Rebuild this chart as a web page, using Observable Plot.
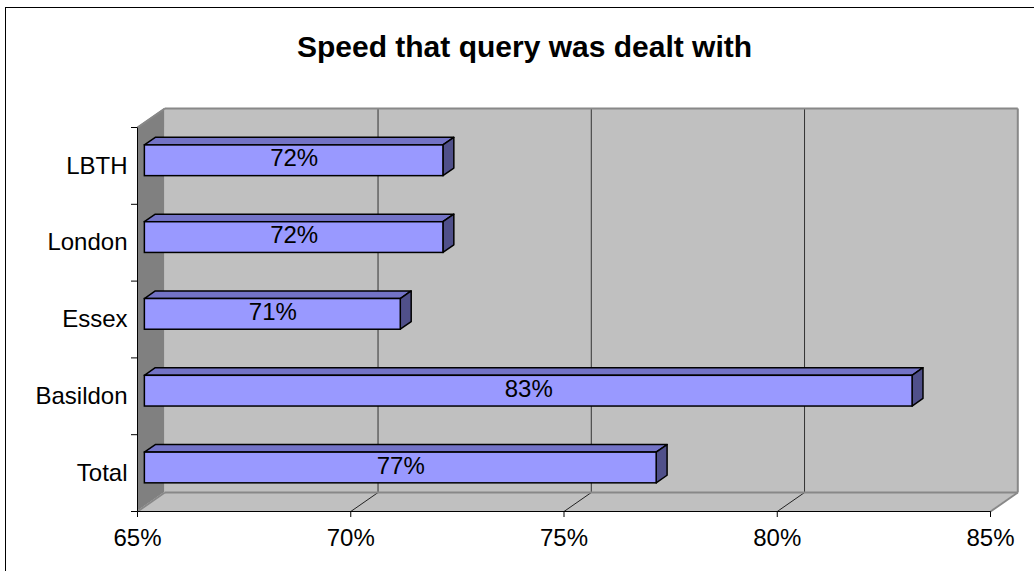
<!DOCTYPE html>
<html>
<head>
<meta charset="utf-8">
<script src="https://cdn.jsdelivr.net/npm/d3@7"></script>
<script src="https://cdn.jsdelivr.net/npm/@observablehq/plot@0.6"></script>
<style>
  html, body { margin: 0; padding: 0; background: #fff; overflow: hidden; }
  #wrap { position: relative; width: 1034px; height: 571px; overflow: hidden; font-family: "Liberation Sans", Arial, sans-serif; }
  #frame { position: absolute; left: 5px; top: 7px; width: 1100px; height: 700px; border: 1px solid #000; box-sizing: border-box; }
  #title { position: absolute; left: 0; width: 1049px; top: 32px; text-align: center; font-weight: bold; font-size: 30px; line-height: 30px; color: #000; }
  #chart { position: absolute; left: 0; top: 0; }
</style>
</head>
<body>
<div id="wrap">
  <div id="frame"></div>
  <div id="chart"></div>
  <div id="title">Speed that query was dealt with</div>
</div>
<script>
// ---- data ----
const categories = ["LBTH", "London", "Essex", "Basildon", "Total"];
const values = [72, 72, 71, 83, 77];
const xTicks = [65, 70, 75, 80, 85];
const xDomain = [65, 85];

// ---- 3D geometry (in data units) ----
const DX = 0.64;   // depth shift along x
const DY = 0.247;  // depth shift along y
const T0 = 0.27, T1 = 0.67; // bar front/back depth fractions
const H = 0.40;    // bar thickness (band units)
const X0 = xDomain[0], X1 = xDomain[1];
const N = categories.length;

const rows = categories.map((c, i) => ({cat: c, value: values[i], pos: N - i - 0.5, label: values[i] + "%"}));

const topFace = rows.flatMap(d => [
  {cat: d.cat, y: d.pos + H / 2 + T0 * DY, x1: X0 + T0 * DX, x2: d.value + T0 * DX},
  {cat: d.cat, y: d.pos + H / 2 + T1 * DY, x1: X0 + T1 * DX, x2: d.value + T1 * DX}
]);
const sideFace = rows.flatMap(d => [
  {cat: d.cat, x: d.value + T0 * DX, y1: d.pos - H / 2 + T0 * DY, y2: d.pos + H / 2 + T0 * DY},
  {cat: d.cat, x: d.value + T1 * DX, y1: d.pos - H / 2 + T1 * DY, y2: d.pos + H / 2 + T1 * DY}
]);

const inner = xTicks.slice(1, -1);

const chart = Plot.plot({
  width: 1034,
  height: 571,
  marginLeft: 137,
  marginRight: 44,
  marginTop: 127,
  marginBottom: 60,
  style: {fontFamily: "Liberation Sans, Arial, sans-serif", fontSize: "24px", background: "transparent", color: "#000"},
  x: {domain: xDomain, ticks: xTicks, tickFormat: d => d + "%", tickSize: 6, tickPadding: 11, label: null},
  y: {domain: [0, N], ticks: d3.range(0, N + 1), tickFormat: () => "", tickSize: 6, label: null},
  marks: [
    // back wall
    Plot.rect([0], {x1: X0 + DX, x2: X1 + DX, y1: DY, y2: N + DY, fill: "#c0c0c0"}),
    // left wall
    Plot.areaY([{x: X0, y1: 0, y2: N}, {x: X0 + DX, y1: DY, y2: N + DY}], {x: "x", y1: "y1", y2: "y2", fill: "#808080"}),
    // floor
    Plot.areaX([{y: 0, x1: X0, x2: X1}, {y: DY, x1: X0 + DX, x2: X1 + DX}], {y: "y", x1: "x1", x2: "x2", fill: "#c0c0c0"}),
    // gridlines on back wall
    Plot.ruleX(inner, {x: d => d + DX, y1: DY, y2: N + DY, stroke: "#333", strokeWidth: 1}),
    // gridlines on floor
    Plot.link(inner, {x1: d => d, y1: 0, x2: d => d + DX, y2: DY, stroke: "#222", strokeWidth: 1}),
    // wall edges
    Plot.link([[X0 + DX, N + DY, X1 + DX, N + DY], [X1 + DX, DY, X1 + DX, N + DY], [X1, 0, X1 + DX, DY], [X0 + DX, DY, X1 + DX, DY], [X0, N, X0 + DX, N + DY], [X0, 0, X0 + DX, DY]],
      {x1: d => d[0], y1: d => d[1], x2: d => d[2], y2: d => d[3], stroke: "#888", strokeWidth: 2}),
    // front axis lines
    Plot.link([[X0, 0, X1, 0], [X0, 0, X0, N]], {x1: d => d[0], y1: d => d[1], x2: d => d[2], y2: d => d[3], stroke: "#000", strokeWidth: 1}),
    // bars: top, side, front
    Plot.areaX(topFace, {y: "y", x1: "x1", x2: "x2", z: "cat", fill: "#7373c6", stroke: "#000", strokeWidth: 1.5, strokeLinejoin: "round"}),
    Plot.areaY(sideFace, {x: "x", y1: "y1", y2: "y2", z: "cat", fill: "#50508a", stroke: "#000", strokeWidth: 1.5, strokeLinejoin: "round"}),
    Plot.rect(rows, {x1: X0 + T0 * DX, x2: d => d.value + T0 * DX, y1: d => d.pos - H / 2 + T0 * DY, y2: d => d.pos + H / 2 + T0 * DY, fill: "#9999ff", stroke: "#000", strokeWidth: 1.5}),
    // value labels
    Plot.text(rows, {x: d => (X0 + d.value) / 2 + T0 * DX, y: d => d.pos + T0 * DY, text: "label", fontSize: 24, dy: -2, fill: "#000"}),
    // category labels
    Plot.text(rows, {x: X0, y: "pos", text: "cat", textAnchor: "end", dx: -10, fontSize: 24, fill: "#000"})
  ]
});
document.getElementById("chart").appendChild(chart);
</script>
</body>
</html>
